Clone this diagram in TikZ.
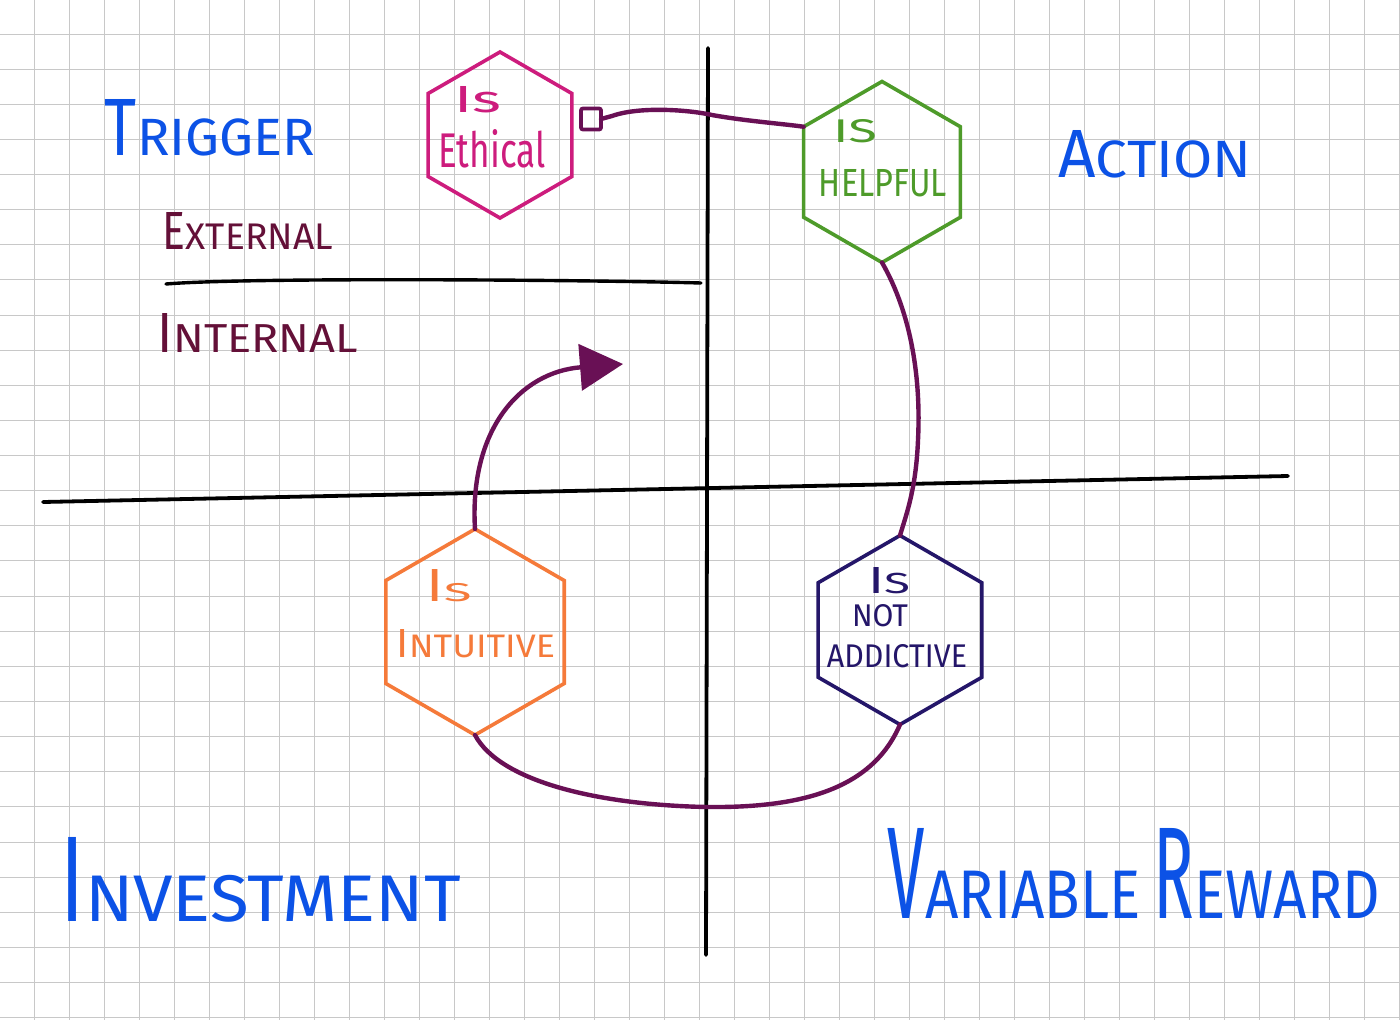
\documentclass[tikz,border=0pt]{standalone}
\usepackage{fontspec}
\setmainfont{Fira Sans}
\usepackage{graphicx}
\usetikzlibrary{shapes.geometric,arrows.meta}
\definecolor{inkblue}{RGB}{12,82,230}
\definecolor{inkmaroon}{RGB}{100,16,56}
\definecolor{inkconn}{RGB}{105,16,85}
\definecolor{inkmagenta}{RGB}{205,28,125}
\definecolor{inkgreen}{RGB}{78,155,42}
\definecolor{inknavy}{RGB}{36,22,105}
\definecolor{inkorange}{RGB}{245,122,58}
\definecolor{gridgray}{RGB}{200,200,200}
% first letter stretched tall, rest at the same size (even stroke weight)
\newcommand\hsc[3]{\mbox{\fontsize{12}{12}\selectfont\scalebox{1.15}[#1]{#2}#3}}
\newcommand\fitto[3]{\resizebox{#1pt}{#2pt}{#3}}
\begin{document}
\begin{tikzpicture}[x=1pt,y=-1pt,
  gridline/.style={draw=gridgray,line width=1pt},
  axis/.style={draw=black,line width=3.8pt,line cap=round},
  hexbox/.style={regular polygon,regular polygon sides=6,shape border rotate=30,
    inner sep=0pt,outer sep=0pt,line width=3.6pt,draw,minimum size=#1},
  conn/.style={draw=inkconn,line width=4.4pt,line cap=round,line join=round},
  lbl/.style={inner sep=0pt,outer sep=0pt,anchor=center}]
\fill[white] (0,0) rectangle (1400,1020);
\useasboundingbox (0,0) rectangle (1400,1020);
% grid
\foreach \k in {-1,...,39} \draw[gridline] ({34+35*\k},0) -- ({34+35*\k},1020);
\foreach \k in {-1,...,28} \draw[gridline] (0,{34+35.13*\k}) -- (1400,{34+35.13*\k});
% axes
\draw[axis] (708,48) -- (706,955);
\draw[axis] (43,502) -- (1288,476);
\draw[draw=black,line width=3.4pt,line cap=round] (166,284) .. controls (250,277) and (600,280) .. (701,283);
% quadrant labels
\node[lbl,text=inkblue] (trigger) at (210,128) {\fitto{210}{56}{\hsc{1.55}{T}{RIGGER}}};
\node[lbl,text=inkblue] (action) at (1155,154) {\fitto{193}{47}{\hsc{1.3}{A}{CTION}}};
\node[lbl,text=inkmaroon] (external) at (248,231) {\fitto{170}{37}{\hsc{1.45}{E}{XTERNAL}}};
\node[lbl,text=inkmaroon] (internal) at (258,333) {\fitto{200}{39}{\hsc{1.4}{I}{NTERNAL}}};
\node[lbl,text=inkblue] (invest) at (261,880) {\fitto{400}{84}{\hsc{1.85}{I}{NVESTMENT}}};
\node[lbl,text=inkblue] (reward) at (1134,873) {\fitto{492}{90}{\hsc{1.9}{V}{ARIABLE} \hsc{1.9}{R}{EWARD}}};
% hexagons
\node[hexbox=166pt,draw=inkmagenta] (eth) at (500,135) {};
\node[hexbox=181pt,draw=inkgreen] (help) at (882,172) {};
\node[hexbox=189pt,draw=inknavy] (add) at (900,630) {};
\node[hexbox=206pt,draw=inkorange] (intu) at (475,632) {};
% hexagon texts
\node[lbl,text=inkmagenta] (ethIs) at (478,100) {\fitto{47}{26}{Is}};
\node[lbl,text=inkmagenta] (ethTx) at (492,149) {\fitto{107}{38}{Ethical}};
\node[lbl,text=inkgreen] (helpIs) at (855,131) {\fitto{44}{23}{IS}};
\node[lbl,text=inkgreen] (helpTx) at (883,183) {\fitto{128}{27}{HELPFUL}};
\node[lbl,text=inknavy] (addIs) at (889,581) {\fitto{42}{26}{\hsc{1.3}{I}{S}}};
\node[lbl,text=inknavy] (addNot) at (880,616) {\fitto{56}{22}{NOT}};
\node[lbl,text=inknavy] (addTx) at (897,656) {\fitto{140}{23}{ADDICTIVE}};
\node[lbl,text=inkorange] (intuIs) at (449,586) {\fitto{45}{32}{\hsc{1.8}{I}{S}}};
\node[lbl,text=inkorange] (intuTx) at (476,644) {\fitto{158}{28}{\hsc{1.25}{I}{NTUITIVE}}};
% connectors
\node[draw=inkconn,line width=3.8pt,minimum width=20pt,minimum height=21pt,inner sep=0pt,outer sep=0pt,rounded corners=2pt] (sq) at (591,119) {};
\draw[conn] (sq.east) -- (612,116) .. controls (640,106) and (690,110) .. (712,115)
  .. controls (745,121) and (785,124) .. (help.150);
\draw[conn] (help.-90) .. controls (912,315) and (921,380) .. (918,440)
  .. controls (916,490) and (906,515) .. (add.90);
\draw[conn] (add.-90) .. controls (872,790) and (800,808) .. (707,807)
  .. controls (600,805) and (500,782) .. (intu.-90);
\coordinate (tip) at (623,364);
\draw[conn,-{Triangle[length=43pt,width=46pt]}] (intu.90) .. controls (469,430) and (520,372) .. (tip);
\end{tikzpicture}
\end{document}
